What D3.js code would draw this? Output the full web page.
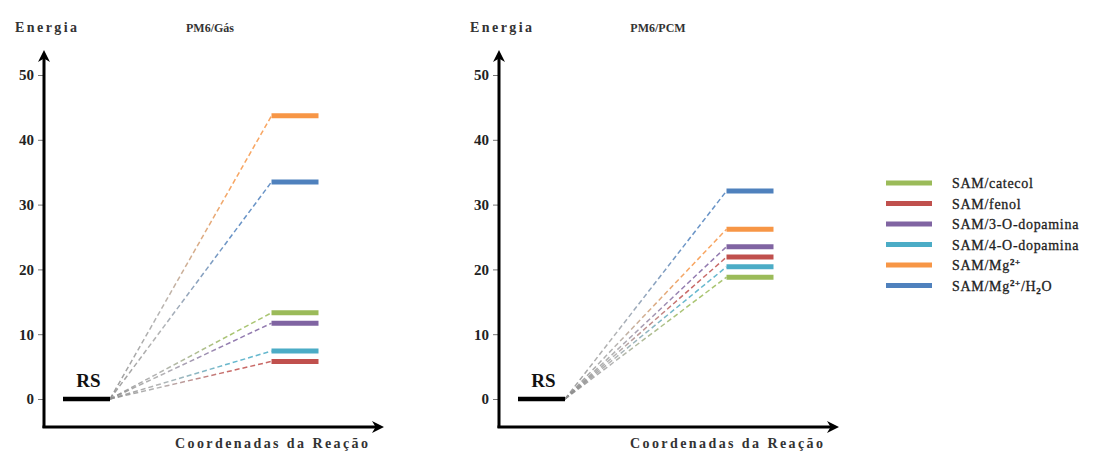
<!DOCTYPE html>
<html>
<head>
<meta charset="utf-8">
<script src="https://cdn.jsdelivr.net/npm/d3@7"></script>
<style>
body{margin:0;background:#fff;}
svg{display:block;}
</style>
</head>
<body>
<svg id="chart" width="1116" height="453"></svg>
<script>
// ---- data ----
const seriesNames = ["SAM/catecol","SAM/fenol","SAM/3-O-dopamina","SAM/4-O-dopamina","SAM/Mg2+","SAM/Mg2+/H2O"];
const seriesColors = ["#9bbb59","#c0504d","#8064a2","#4bacc6","#f79646","#4f81bd"];
const gasValues = [13.3, 5.8, 11.7, 7.4, 43.7, 33.5];
const pcmValues = [18.8, 21.9, 23.5, 20.4, 26.2, 32.1];
const rsValue = 0;
const yTicks = [0,10,20,30,40,50];
const panelTitles = ["PM6/Gás","PM6/PCM"];
const yLabel = "Energia";
const xLabel = "Coordenadas da Reação";
const stages = ["RS","P"];

const svg = d3.select("#chart");
const defs = svg.append("defs");
defs.append("marker").attr("id","arrow").attr("viewBox","0 0 10 10")
  .attr("refX",5).attr("refY",5).attr("markerWidth",4).attr("markerHeight",4)
  .attr("orient","auto-start-reverse").attr("markerUnits","strokeWidth")
  .append("path").attr("d","M0,0 L10,5 L0,10 L3,5 Z").attr("fill","#000");

const y = d3.scaleLinear().domain([0,50]).range([399,75]);
const serif = "'Liberation Serif','Times New Roman',serif";

function boldText(sel, fill){
  return sel.attr("font-family",serif).attr("font-weight","bold").attr("fill",fill);
}

const panels = [
  {dx:0, values:gasValues, title:panelTitles[0], titleX:210},
  {dx:455, values:pcmValues, title:panelTitles[1], titleX:658}
];

panels.forEach((p,pi)=>{
  const g = svg.append("g").attr("transform",`translate(${p.dx},0)`);
  const axX = 44, axY = 427;
  const x = d3.scalePoint().domain(stages).range([86.5,295]);
  const hw = 23.5;

  // gradients for connectors (user space of the panel group)
  p.values.forEach((v,i)=>{
    const gid = `grad${pi}_${i}`;
    const lg = defs.append("linearGradient").attr("id",gid)
      .attr("gradientUnits","userSpaceOnUse")
      .attr("x1",x("RS")+hw).attr("y1",y(rsValue))
      .attr("x2",x("P")-hw).attr("y2",y(v));
    lg.append("stop").attr("offset","0%").attr("stop-color","#8c8c8c");
    lg.append("stop").attr("offset","30%").attr("stop-color","#a8a8a8");
    lg.append("stop").attr("offset","75%").attr("stop-color",seriesColors[i]);
  });

  // y axis ticks
  const yAxis = d3.axisLeft(y).tickValues(yTicks).tickSize(5).tickPadding(4).tickFormat(d3.format("d"));
  const ya = g.append("g").attr("transform",`translate(${axX-1},0)`).call(yAxis);
  ya.select(".domain").remove();
  ya.selectAll(".tick line").attr("stroke","#777").attr("stroke-width",1);
  boldText(ya.selectAll(".tick text").attr("font-size",15), "#222");

  // axis lines with arrows
  g.append("line").attr("x1",axX).attr("y1",axY+1).attr("x2",axX).attr("y2",56)
    .attr("stroke","#000").attr("stroke-width",3).attr("marker-end","url(#arrow)");
  g.append("line").attr("x1",axX-1.5).attr("y1",axY).attr("x2",378).attr("y2",axY)
    .attr("stroke","#000").attr("stroke-width",3).attr("marker-end","url(#arrow)");

  // connectors
  g.selectAll(".conn").data(p.values).enter().append("line")
    .attr("x1",x("RS")+hw).attr("y1",y(rsValue))
    .attr("x2",x("P")-hw).attr("y2",d=>y(d))
    .attr("stroke",(d,i)=>`url(#grad${pi}_${i})`)
    .attr("stroke-width",1.5).attr("stroke-dasharray","5,3").attr("opacity",0.85);

  // RS bar
  g.append("line").attr("x1",x("RS")-hw).attr("x2",x("RS")+hw)
    .attr("y1",y(rsValue)).attr("y2",y(rsValue)).attr("stroke","#000").attr("stroke-width",4.5);
  boldText(g.append("text").attr("x",x("RS")+2).attr("y",y(rsValue)-12).attr("text-anchor","middle")
    .attr("font-size",19).text("RS"), "#111");

  // level bars
  g.selectAll(".lvl").data(p.values).enter().append("line")
    .attr("x1",x("P")-hw).attr("x2",x("P")+hw)
    .attr("y1",d=>y(d)).attr("y2",d=>y(d))
    .attr("stroke",(d,i)=>seriesColors[i]).attr("stroke-width",5);

  // labels
  boldText(g.append("text").attr("x",axX+2).attr("y",32).attr("text-anchor","middle")
    .attr("font-size",14).attr("textLength",62).attr("lengthAdjust","spacing").text(yLabel), "#333");
  boldText(svg.append("text").attr("x",p.titleX).attr("y",32).attr("text-anchor","middle")
    .attr("font-size",12).text(p.title), "#333");
  boldText(g.append("text").attr("x",175).attr("y",448)
    .attr("font-size",14).attr("textLength",193).attr("lengthAdjust","spacing").text(xLabel), "#333");
});

// legend
const leg = svg.append("g").attr("transform","translate(886,183)");
const rowH = 20.5;
seriesNames.forEach((name,i)=>{
  const r = leg.append("g").attr("transform",`translate(0,${i*rowH})`);
  r.append("line").attr("x1",0).attr("x2",46).attr("y1",0).attr("y2",0)
    .attr("stroke",seriesColors[i]).attr("stroke-width",5);
  const t = r.append("text").attr("x",66).attr("y",5).attr("font-family",serif)
    .attr("font-size",14).attr("fill","#222").attr("stroke","#222").attr("stroke-width",0.3)
    .attr("letter-spacing","0.7px");
  const m = name.match(/^(SAM\/Mg)2\+(\/H2O)?$/);
  if(m){
    t.append("tspan").text("SAM/Mg");
    t.append("tspan").attr("dy",-5).attr("font-size",9).attr("font-weight","bold").text("2+");
    if(m[2]){
      t.append("tspan").attr("dy",5).text("/H");
      t.append("tspan").attr("dy",3).attr("font-size",9).attr("font-weight","bold").text("2");
      t.append("tspan").attr("dy",-3).text("O");
    }
  } else {
    t.text(name);
  }
});
</script>
</body>
</html>
